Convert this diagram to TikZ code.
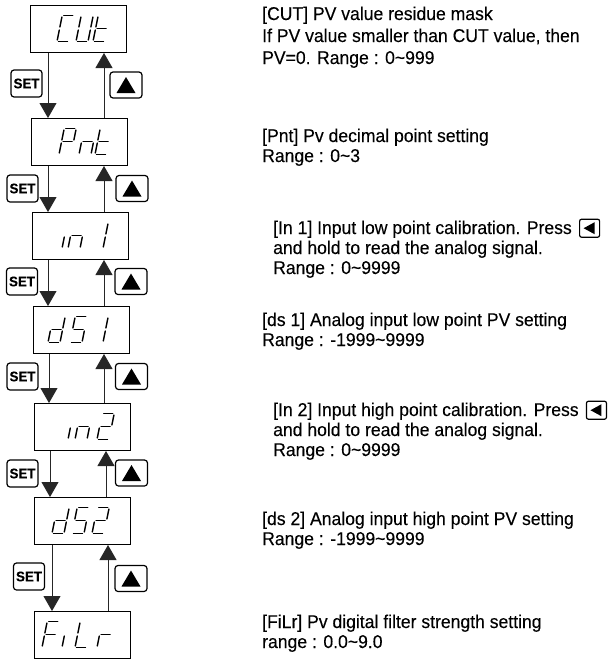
\documentclass[tikz,border=0pt]{standalone}
\usepackage{fontspec}
\setmainfont{Liberation Sans}[FakeStretch=0.95,FakeBold=0.2]
\usetikzlibrary{arrows.meta}
\newcommand{\SA}{\draw[seg] (1.5,-26)--(10.5,-26);}
\newcommand{\SB}{\draw[seg] (12,-24.5)--(12,-14.5);}
\newcommand{\SC}{\draw[seg] (12,-11.5)--(12,-1.5);}
\newcommand{\SD}{\draw[seg] (1.5,0)--(10.5,0);}
\newcommand{\SE}{\draw[seg] (0,-1.5)--(0,-11.5);}
\newcommand{\SF}{\draw[seg] (0,-14.5)--(0,-24.5);}
\newcommand{\SG}{\draw[seg] (1.5,-13)--(10.5,-13);}
\newcommand{\glyph}[3]{\begin{scope}[shift={(#1,#2)},xslant=0.2]#3\end{scope}}
\begin{document}
\begin{tikzpicture}[x=1pt,y=-1pt,
  disp/.style={draw,line width=1pt,minimum width=96pt,minimum height=47pt,inner sep=0pt,anchor=north west},
  seg/.style={line width=1.4pt,line cap=round},
  conn/.style={draw=black!85,line width=0.8pt},
  tip/.style={-{Triangle[width=17pt,length=15pt]}},
  setbtn/.style={draw,rounded corners=3pt,line width=1.2pt,minimum width=31pt,minimum height=27pt,inner sep=0pt,font=\bfseries\fontsize{14}{14}\selectfont},
  upbtn/.style={draw,rounded corners=3pt,line width=1.2pt,minimum width=32pt,minimum height=26pt,inner sep=0pt},
  lbtn/.style={draw,rounded corners=2pt,line width=1.2pt,minimum width=20pt,minimum height=18pt,inner sep=0pt},
  txt/.style={anchor=base west,inner sep=0pt,font=\fontsize{18.5}{21}\selectfont,text=black}]
\useasboundingbox (0,0) rectangle (608,659);

% display boxes
\node[disp] (d1) at (30,5) {};
\node[disp] (d2) at (31,118) {};
\node[disp] (d3) at (32,212) {};
\node[disp] (d4) at (33,306) {};
\node[disp] (d5) at (34,403) {};
\node[disp] (d6) at (34,497) {};
\node[disp] (d7) at (34,611) {};

% glyphs
\glyph{57}{41.5}{\SA\SF\SE\SD}
\glyph{76}{41.5}{\SF\SE\SD\SC\SB}
\glyph{93}{41.5}{\SF\SE\SD\SG}

\glyph{59}{154.5}{\SA\SB\SF\SG\SE}
\glyph{79}{154.5}{\SE\SG\SC}
\glyph{95}{154.5}{\SF\SE\SD\SG}

\glyph{62}{248.5}{\SE}
\glyph{68}{248.5}{\SE\SG\SC}
\glyph{91}{248.5}{\SB\SC}

\glyph{48}{342.5}{\SB\SC\SD\SE\SG}
\glyph{70}{342.5}{\SA\SF\SG\SC\SD}
\glyph{91}{342.5}{\SB\SC}

\glyph{68}{439.5}{\SE}
\glyph{75}{439.5}{\SE\SG\SC}
\glyph{97}{439.5}{\SA\SB\SG\SE\SD}

\glyph{52}{533.5}{\SB\SC\SD\SE\SG}
\glyph{72}{533.5}{\SA\SF\SG\SC\SD}
\glyph{92}{533.5}{\SA\SB\SG\SE\SD}

\glyph{42}{647.5}{\SA\SF\SG\SE}
\glyph{62}{647.5}{\SE}
\glyph{75}{647.5}{\SF\SE\SD}
\glyph{97}{647.5}{\SE\SG}

% x positions of connectors
\coordinate (dx1) at (48,0);  \coordinate (ux1) at (104,0);
\coordinate (dx2) at (48,0);  \coordinate (ux2) at (104,0);
\coordinate (dx3) at (48,0);  \coordinate (ux3) at (104,0);
\coordinate (dx4) at (49,0);  \coordinate (ux4) at (104,0);
\coordinate (dx5) at (50,0);  \coordinate (ux5) at (106,0);
\coordinate (dx6) at (52,0);  \coordinate (ux6) at (108,0);

\foreach \a/\b/\i in {d1/d2/1,d2/d3/2,d3/d4/3,d4/d5/4,d5/d6/5,d6/d7/6}{
  \draw[conn,tip] (\a.south -| dx\i) -- (\b.north -| dx\i);
  \draw[conn,tip] (\b.north -| ux\i) -- (\a.south -| ux\i);
}

% buttons
\node[setbtn] (s1) at (26.5,83.5) {SET};
\node[setbtn] (s2) at (22.5,188.5) {SET};
\node[setbtn] (s3) at (22,281.5) {SET};
\node[setbtn] (s4) at (22.5,376.5) {SET};
\node[setbtn] (s5) at (22.5,473.5) {SET};
\node[setbtn] (s6) at (29,576.5) {SET};

\node[upbtn] (u1) at (126,85) {};
\node[upbtn] (u2) at (132,188.5) {};
\node[upbtn] (u3) at (131,281.5) {};
\node[upbtn] (u4) at (131.5,376.5) {};
\node[upbtn] (u5) at (131.5,473) {};
\node[upbtn] (u6) at (131,578.5) {};
\foreach \u in {u1,u2,u3,u4,u5,u6}{
  \fill (\u.center) +(-9.5,8) -- +(9.5,8) -- +(0,-8) -- cycle;
}

% texts
\node[txt] (t1a) at (262,20) {[CUT] PV value residue mask};
\node[txt] (t1b) at (262,42) {If PV value smaller than CUT value, then};
\node[txt] (t1c) at (262,64) {PV=0. Range : 0\textasciitilde999};

\node[txt] (t2a) at (262,142) {[Pnt] Pv decimal point setting};
\node[txt] (t2b) at (262,162) {Range : 0\textasciitilde3};

\node[txt] (t3a) at (273,234) {[In 1] Input low point calibration. Press};
\node[txt] (t3b) at (273,254) {and hold to read the analog signal.};
\node[txt] (t3c) at (273,274) {Range : 0\textasciitilde9999};

\node[txt] (t4a) at (262,326) {[ds 1] Analog input low point PV setting};
\node[txt] (t4b) at (262,346) {Range : -1999\textasciitilde9999};

\node[txt] (t5a) at (273,416) {[In 2] Input high point calibration. Press};
\node[txt] (t5b) at (273,436) {and hold to read the analog signal.};
\node[txt] (t5c) at (273,456) {Range : 0\textasciitilde9999};

\node[txt] (t6a) at (262,525) {[ds 2] Analog input high point PV setting};
\node[txt] (t6b) at (262,545) {Range : -1999\textasciitilde9999};

\node[txt] (t7a) at (262,628) {[FiLr] Pv digital filter strength setting};
\node[txt] (t7b) at (262,648) {range : 0.0\textasciitilde9.0};

\node[lbtn,anchor=west] (k1) at ([xshift=7pt,yshift=1pt]t3a.east) {};
\node[lbtn,anchor=west] (k2) at ([xshift=7pt,yshift=1pt]t5a.east) {};
\foreach \k in {k1,k2}{
  \fill (\k.center) +(-6,0) -- +(5,-6) -- +(5,6) -- cycle;
}
\end{tikzpicture}
\end{document}
